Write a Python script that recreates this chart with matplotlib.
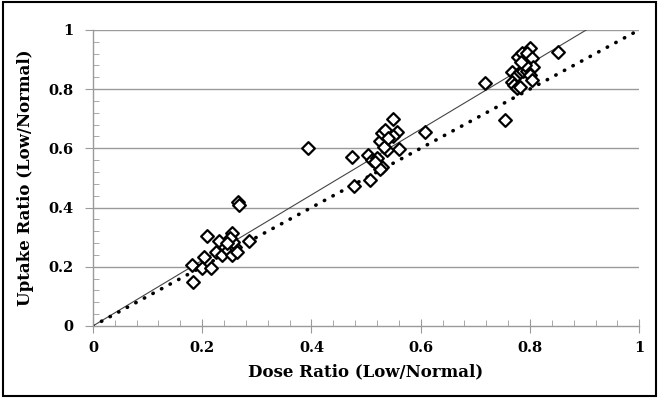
import numpy as np
import matplotlib
matplotlib.use("Agg")
from matplotlib import pyplot as plt
from matplotlib.patches import Rectangle
from matplotlib.ticker import MultipleLocator

# dose ratio (x) and uptake ratio (y)
dose = [
    0.265, 0.268, 0.208, 0.254, 0.231, 0.286, 0.181, 0.184, 0.203, 0.200,
    0.217, 0.225, 0.236, 0.242, 0.248, 0.254, 0.260, 0.257, 0.251, 0.263,
    0.245,
    0.393, 0.474, 0.477, 0.507, 0.504, 0.510, 0.520, 0.526, 0.529, 0.535,
    0.549, 0.556, 0.550, 0.561, 0.529, 0.526, 0.538, 0.533, 0.517, 0.541,
    0.608, 0.718,
    0.755, 0.851, 0.779, 0.785, 0.800, 0.794, 0.803, 0.806, 0.767, 0.776,
    0.782, 0.788, 0.794, 0.800, 0.803, 0.767, 0.770, 0.776, 0.782, 0.790,
    0.784,
]
uptake = [
    0.418, 0.410, 0.304, 0.313, 0.287, 0.288, 0.206, 0.150, 0.232, 0.195,
    0.195, 0.251, 0.240, 0.268, 0.257, 0.240, 0.268, 0.285, 0.296, 0.251,
    0.280,
    0.602, 0.572, 0.473, 0.493, 0.578, 0.561, 0.566, 0.623, 0.651, 0.662,
    0.698, 0.656, 0.640, 0.597, 0.538, 0.530, 0.595, 0.605, 0.555, 0.634,
    0.656, 0.822,
    0.694, 0.925, 0.910, 0.921, 0.938, 0.921, 0.904, 0.876, 0.859, 0.848,
    0.859, 0.862, 0.860, 0.848, 0.831, 0.825, 0.814, 0.803, 0.808, 0.880,
    0.890,
]
fit_slope = 1.107   # regression line through the origin
identity = [0, 1]

serif = ["DejaVu Serif"]


def tick_fmt(v, pos):
    return f"{round(v, 2):g}"


fig = plt.figure(figsize=(6.59, 3.98), dpi=100)
ax = fig.add_axes([0.141, 0.181, 0.829, 0.744])

# gridlines
for g in [0.2, 0.4, 0.6, 0.8, 1.0]:
    ax.axhline(g, color="#9a9a9a", lw=1.0, zorder=0)

# fit line and y = x line
xs = np.array([0, 1.0 / fit_slope])
ax.plot(xs, fit_slope * xs, color="#444444", lw=0.8, zorder=2)
ax.plot(identity, identity, color="black", lw=2.6, linestyle=(0, (0.1, 2.6)),
        dash_capstyle="round", zorder=2)

ax.scatter(dose, uptake, marker="D", s=42, facecolors="white",
           edgecolors="black", linewidths=1.6, zorder=3)

ax.set_xlim(0, 1)
ax.set_ylim(0, 1)
ax.xaxis.set_major_locator(MultipleLocator(0.2))
ax.yaxis.set_major_locator(MultipleLocator(0.2))
ax.xaxis.set_minor_locator(MultipleLocator(0.04))
ax.yaxis.set_minor_locator(MultipleLocator(0.04))
ax.xaxis.set_major_formatter(tick_fmt)
ax.yaxis.set_major_formatter(tick_fmt)

for s in ["top", "right"]:
    ax.spines[s].set_visible(False)
for s in ["left", "bottom"]:
    ax.spines[s].set_color("#9a9a9a")
    ax.spines[s].set_linewidth(1.0)

ax.tick_params(axis="x", which="major", direction="inout", length=10, color="#9a9a9a", pad=6)
ax.tick_params(axis="x", which="minor", direction="in", length=4, color="#9a9a9a")
ax.tick_params(axis="y", which="major", direction="out", length=6, color="#9a9a9a", pad=8)
ax.tick_params(axis="y", which="minor", direction="in", length=4, color="#9a9a9a")
for lab in ax.get_xticklabels() + ax.get_yticklabels():
    lab.set_fontfamily(serif)
    lab.set_fontweight("bold")
    lab.set_fontsize(10.5)

ax.set_xlabel("Dose Ratio (Low/Normal)", fontfamily=serif, fontweight="bold",
              fontsize=12, labelpad=6)
ax.set_ylabel("Uptake Ratio (Low/Normal)", fontfamily=serif, fontweight="bold",
              fontsize=12, labelpad=10)

# black frame around the whole chart
fig.patches.append(Rectangle((0.005, 0.005), 0.99, 0.99, transform=fig.transFigure,
                             fill=False, edgecolor="black", lw=1.5))

fig.savefig("out.png", dpi=100)
